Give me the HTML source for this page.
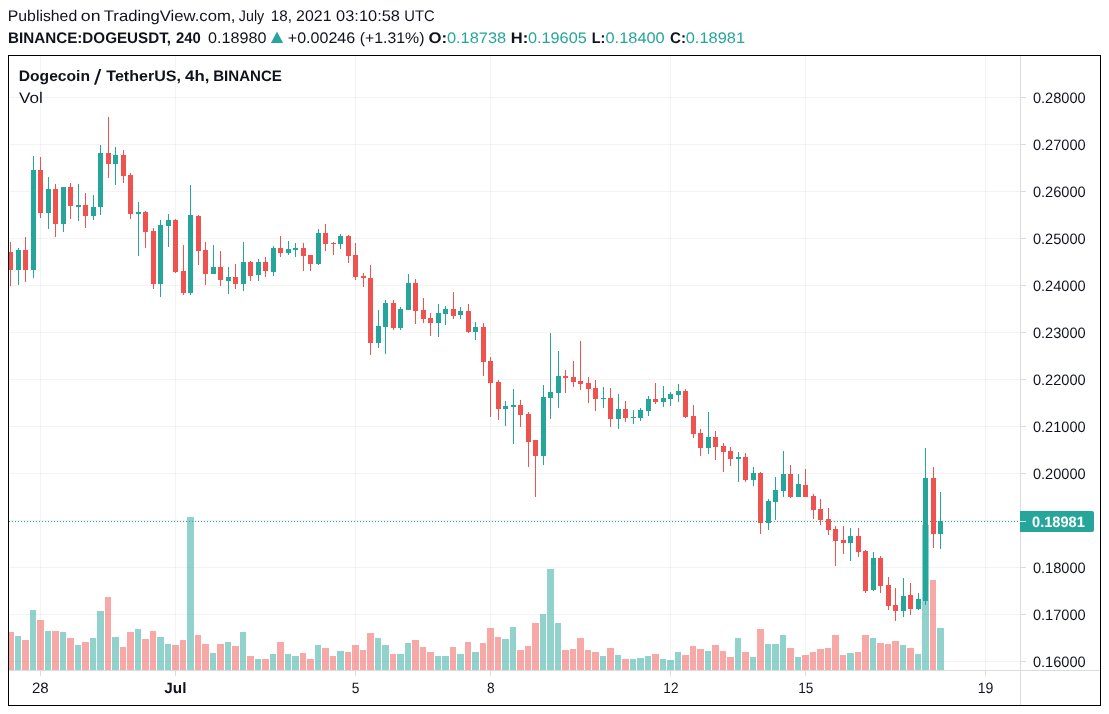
<!DOCTYPE html>
<html><head><meta charset="utf-8"><title>DOGEUSDT</title>
<style>html,body{margin:0;padding:0;background:#fff;font-family:"Liberation Sans",sans-serif;}svg{display:block}</style></head>
<body>
<div style="will-change:transform;width:1109px;height:714px;overflow:hidden">
<svg width="1109" height="714" viewBox="0 0 1109 714" shape-rendering="crispEdges" text-rendering="geometricPrecision">
<rect x="0" y="0" width="1109" height="714" fill="#fff"/>
<g fill="rgba(42,46,57,0.06)">
<rect x="9" y="97" width="1011" height="1"/>
<rect x="9" y="144" width="1011" height="1"/>
<rect x="9" y="191" width="1011" height="1"/>
<rect x="9" y="238" width="1011" height="1"/>
<rect x="9" y="285" width="1011" height="1"/>
<rect x="9" y="332" width="1011" height="1"/>
<rect x="9" y="379" width="1011" height="1"/>
<rect x="9" y="426" width="1011" height="1"/>
<rect x="9" y="473" width="1011" height="1"/>
<rect x="9" y="520" width="1011" height="1"/>
<rect x="9" y="567" width="1011" height="1"/>
<rect x="9" y="614" width="1011" height="1"/>
<rect x="9" y="661" width="1011" height="1"/>
<rect x="40" y="56" width="1" height="614"/>
<rect x="175" y="56" width="1" height="614"/>
<rect x="355" y="56" width="1" height="614"/>
<rect x="490" y="56" width="1" height="614"/>
<rect x="670" y="56" width="1" height="614"/>
<rect x="805" y="56" width="1" height="614"/>
<rect x="985" y="56" width="1" height="614"/>
</g>
<clipPath id="c"><rect x="9" y="56" width="1011" height="614"/></clipPath>
<g clip-path="url(#c)">
<rect x="7" y="632" width="7" height="38" fill="rgba(239,83,80,0.5)"/>
<rect x="15" y="636" width="6" height="34" fill="rgba(38,166,154,0.5)"/>
<rect x="22" y="640" width="7" height="30" fill="rgba(239,83,80,0.5)"/>
<rect x="30" y="610" width="6" height="60" fill="rgba(38,166,154,0.5)"/>
<rect x="37" y="620" width="7" height="50" fill="rgba(239,83,80,0.5)"/>
<rect x="45" y="631" width="6" height="39" fill="rgba(38,166,154,0.5)"/>
<rect x="52" y="631" width="7" height="39" fill="rgba(239,83,80,0.5)"/>
<rect x="60" y="632" width="6" height="38" fill="rgba(38,166,154,0.5)"/>
<rect x="67" y="638" width="7" height="32" fill="rgba(239,83,80,0.5)"/>
<rect x="75" y="645" width="6" height="25" fill="rgba(38,166,154,0.5)"/>
<rect x="82" y="642" width="7" height="28" fill="rgba(239,83,80,0.5)"/>
<rect x="90" y="638" width="6" height="32" fill="rgba(38,166,154,0.5)"/>
<rect x="97" y="611" width="7" height="59" fill="rgba(38,166,154,0.5)"/>
<rect x="105" y="597" width="6" height="73" fill="rgba(239,83,80,0.5)"/>
<rect x="112" y="637" width="7" height="33" fill="rgba(38,166,154,0.5)"/>
<rect x="120" y="647" width="6" height="23" fill="rgba(239,83,80,0.5)"/>
<rect x="127" y="632" width="7" height="38" fill="rgba(239,83,80,0.5)"/>
<rect x="135" y="629" width="6" height="41" fill="rgba(38,166,154,0.5)"/>
<rect x="142" y="639" width="7" height="31" fill="rgba(239,83,80,0.5)"/>
<rect x="150" y="631" width="6" height="39" fill="rgba(239,83,80,0.5)"/>
<rect x="157" y="637" width="7" height="33" fill="rgba(38,166,154,0.5)"/>
<rect x="165" y="644" width="6" height="26" fill="rgba(38,166,154,0.5)"/>
<rect x="172" y="645" width="7" height="25" fill="rgba(239,83,80,0.5)"/>
<rect x="180" y="640" width="6" height="30" fill="rgba(239,83,80,0.5)"/>
<rect x="187" y="517" width="7" height="153" fill="rgba(38,166,154,0.5)"/>
<rect x="195" y="635" width="6" height="35" fill="rgba(239,83,80,0.5)"/>
<rect x="202" y="644" width="7" height="26" fill="rgba(239,83,80,0.5)"/>
<rect x="210" y="653" width="6" height="17" fill="rgba(38,166,154,0.5)"/>
<rect x="217" y="644" width="7" height="26" fill="rgba(239,83,80,0.5)"/>
<rect x="225" y="642" width="6" height="28" fill="rgba(38,166,154,0.5)"/>
<rect x="232" y="646" width="7" height="24" fill="rgba(239,83,80,0.5)"/>
<rect x="240" y="632" width="6" height="38" fill="rgba(38,166,154,0.5)"/>
<rect x="247" y="656" width="7" height="14" fill="rgba(239,83,80,0.5)"/>
<rect x="255" y="659" width="6" height="11" fill="rgba(38,166,154,0.5)"/>
<rect x="262" y="659" width="7" height="11" fill="rgba(239,83,80,0.5)"/>
<rect x="270" y="654" width="6" height="16" fill="rgba(38,166,154,0.5)"/>
<rect x="277" y="642" width="7" height="28" fill="rgba(239,83,80,0.5)"/>
<rect x="285" y="654" width="6" height="16" fill="rgba(38,166,154,0.5)"/>
<rect x="292" y="656" width="7" height="14" fill="rgba(38,166,154,0.5)"/>
<rect x="300" y="653" width="6" height="17" fill="rgba(239,83,80,0.5)"/>
<rect x="307" y="659" width="7" height="11" fill="rgba(239,83,80,0.5)"/>
<rect x="315" y="645" width="6" height="25" fill="rgba(38,166,154,0.5)"/>
<rect x="322" y="648" width="7" height="22" fill="rgba(239,83,80,0.5)"/>
<rect x="330" y="656" width="6" height="14" fill="rgba(239,83,80,0.5)"/>
<rect x="337" y="651" width="7" height="19" fill="rgba(38,166,154,0.5)"/>
<rect x="345" y="652" width="6" height="18" fill="rgba(239,83,80,0.5)"/>
<rect x="352" y="645" width="7" height="25" fill="rgba(239,83,80,0.5)"/>
<rect x="360" y="650" width="6" height="20" fill="rgba(239,83,80,0.5)"/>
<rect x="367" y="633" width="7" height="37" fill="rgba(239,83,80,0.5)"/>
<rect x="375" y="638" width="6" height="32" fill="rgba(38,166,154,0.5)"/>
<rect x="382" y="645" width="7" height="25" fill="rgba(38,166,154,0.5)"/>
<rect x="390" y="654" width="6" height="16" fill="rgba(239,83,80,0.5)"/>
<rect x="397" y="654" width="7" height="16" fill="rgba(38,166,154,0.5)"/>
<rect x="405" y="643" width="6" height="27" fill="rgba(38,166,154,0.5)"/>
<rect x="412" y="640" width="7" height="30" fill="rgba(239,83,80,0.5)"/>
<rect x="420" y="647" width="6" height="23" fill="rgba(239,83,80,0.5)"/>
<rect x="427" y="652" width="7" height="18" fill="rgba(239,83,80,0.5)"/>
<rect x="435" y="656" width="6" height="14" fill="rgba(38,166,154,0.5)"/>
<rect x="442" y="656" width="7" height="14" fill="rgba(38,166,154,0.5)"/>
<rect x="450" y="647" width="6" height="23" fill="rgba(239,83,80,0.5)"/>
<rect x="457" y="654" width="7" height="16" fill="rgba(38,166,154,0.5)"/>
<rect x="465" y="642" width="6" height="28" fill="rgba(239,83,80,0.5)"/>
<rect x="472" y="652" width="7" height="18" fill="rgba(38,166,154,0.5)"/>
<rect x="480" y="643" width="6" height="27" fill="rgba(239,83,80,0.5)"/>
<rect x="487" y="628" width="7" height="42" fill="rgba(239,83,80,0.5)"/>
<rect x="495" y="637" width="6" height="33" fill="rgba(239,83,80,0.5)"/>
<rect x="502" y="639" width="7" height="31" fill="rgba(38,166,154,0.5)"/>
<rect x="510" y="627" width="6" height="43" fill="rgba(38,166,154,0.5)"/>
<rect x="517" y="650" width="7" height="20" fill="rgba(239,83,80,0.5)"/>
<rect x="525" y="646" width="6" height="24" fill="rgba(239,83,80,0.5)"/>
<rect x="532" y="623" width="7" height="47" fill="rgba(239,83,80,0.5)"/>
<rect x="540" y="614" width="6" height="56" fill="rgba(38,166,154,0.5)"/>
<rect x="547" y="569" width="7" height="101" fill="rgba(38,166,154,0.5)"/>
<rect x="555" y="623" width="6" height="47" fill="rgba(38,166,154,0.5)"/>
<rect x="562" y="650" width="7" height="20" fill="rgba(239,83,80,0.5)"/>
<rect x="570" y="649" width="6" height="21" fill="rgba(239,83,80,0.5)"/>
<rect x="577" y="638" width="7" height="32" fill="rgba(239,83,80,0.5)"/>
<rect x="585" y="650" width="6" height="20" fill="rgba(239,83,80,0.5)"/>
<rect x="592" y="652" width="7" height="18" fill="rgba(239,83,80,0.5)"/>
<rect x="600" y="656" width="6" height="14" fill="rgba(38,166,154,0.5)"/>
<rect x="607" y="648" width="7" height="22" fill="rgba(239,83,80,0.5)"/>
<rect x="615" y="655" width="6" height="15" fill="rgba(38,166,154,0.5)"/>
<rect x="622" y="659" width="7" height="11" fill="rgba(239,83,80,0.5)"/>
<rect x="630" y="659" width="6" height="11" fill="rgba(38,166,154,0.5)"/>
<rect x="637" y="658" width="7" height="12" fill="rgba(38,166,154,0.5)"/>
<rect x="645" y="656" width="6" height="14" fill="rgba(38,166,154,0.5)"/>
<rect x="652" y="654" width="7" height="16" fill="rgba(239,83,80,0.5)"/>
<rect x="660" y="659" width="6" height="11" fill="rgba(38,166,154,0.5)"/>
<rect x="667" y="660" width="7" height="10" fill="rgba(38,166,154,0.5)"/>
<rect x="675" y="652" width="6" height="18" fill="rgba(38,166,154,0.5)"/>
<rect x="682" y="655" width="7" height="15" fill="rgba(239,83,80,0.5)"/>
<rect x="690" y="646" width="6" height="24" fill="rgba(239,83,80,0.5)"/>
<rect x="697" y="649" width="7" height="21" fill="rgba(239,83,80,0.5)"/>
<rect x="705" y="651" width="6" height="19" fill="rgba(38,166,154,0.5)"/>
<rect x="712" y="645" width="7" height="25" fill="rgba(239,83,80,0.5)"/>
<rect x="720" y="651" width="6" height="19" fill="rgba(239,83,80,0.5)"/>
<rect x="727" y="657" width="7" height="13" fill="rgba(239,83,80,0.5)"/>
<rect x="735" y="638" width="6" height="32" fill="rgba(38,166,154,0.5)"/>
<rect x="742" y="652" width="7" height="18" fill="rgba(239,83,80,0.5)"/>
<rect x="750" y="657" width="6" height="13" fill="rgba(38,166,154,0.5)"/>
<rect x="757" y="629" width="7" height="41" fill="rgba(239,83,80,0.5)"/>
<rect x="765" y="644" width="6" height="26" fill="rgba(38,166,154,0.5)"/>
<rect x="772" y="644" width="7" height="26" fill="rgba(38,166,154,0.5)"/>
<rect x="780" y="635" width="6" height="35" fill="rgba(38,166,154,0.5)"/>
<rect x="787" y="648" width="7" height="22" fill="rgba(239,83,80,0.5)"/>
<rect x="795" y="657" width="6" height="13" fill="rgba(38,166,154,0.5)"/>
<rect x="802" y="655" width="7" height="15" fill="rgba(239,83,80,0.5)"/>
<rect x="810" y="652" width="6" height="18" fill="rgba(239,83,80,0.5)"/>
<rect x="817" y="649" width="7" height="21" fill="rgba(239,83,80,0.5)"/>
<rect x="825" y="648" width="6" height="22" fill="rgba(239,83,80,0.5)"/>
<rect x="832" y="635" width="7" height="35" fill="rgba(239,83,80,0.5)"/>
<rect x="840" y="655" width="6" height="15" fill="rgba(239,83,80,0.5)"/>
<rect x="847" y="653" width="7" height="17" fill="rgba(38,166,154,0.5)"/>
<rect x="855" y="652" width="6" height="18" fill="rgba(239,83,80,0.5)"/>
<rect x="862" y="635" width="7" height="35" fill="rgba(239,83,80,0.5)"/>
<rect x="870" y="638" width="6" height="32" fill="rgba(38,166,154,0.5)"/>
<rect x="877" y="643" width="7" height="27" fill="rgba(239,83,80,0.5)"/>
<rect x="885" y="644" width="6" height="26" fill="rgba(239,83,80,0.5)"/>
<rect x="892" y="641" width="7" height="29" fill="rgba(239,83,80,0.5)"/>
<rect x="900" y="645" width="6" height="25" fill="rgba(38,166,154,0.5)"/>
<rect x="907" y="648" width="7" height="22" fill="rgba(239,83,80,0.5)"/>
<rect x="915" y="654" width="6" height="16" fill="rgba(38,166,154,0.5)"/>
<rect x="922" y="525" width="7" height="145" fill="rgba(38,166,154,0.5)"/>
<rect x="930" y="580" width="6" height="90" fill="rgba(239,83,80,0.5)"/>
<rect x="937" y="628" width="7" height="42" fill="rgba(38,166,154,0.5)"/>
<line x1="9" y1="521.5" x2="1020" y2="521.5" stroke="#26a69a" stroke-width="1" stroke-dasharray="1 2" shape-rendering="crispEdges"/>
<rect x="10" y="242" width="1" height="44" fill="#ef5350"/>
<rect x="8" y="252" width="5" height="18" fill="#ef5350"/>
<rect x="18" y="248" width="1" height="37" fill="#26a69a"/>
<rect x="16" y="250" width="5" height="20" fill="#26a69a"/>
<rect x="25" y="237" width="1" height="45" fill="#ef5350"/>
<rect x="23" y="250" width="5" height="20" fill="#ef5350"/>
<rect x="33" y="156" width="1" height="122" fill="#26a69a"/>
<rect x="31" y="170" width="5" height="100" fill="#26a69a"/>
<rect x="40" y="157" width="1" height="61" fill="#ef5350"/>
<rect x="38" y="170" width="5" height="43" fill="#ef5350"/>
<rect x="48" y="177" width="1" height="52" fill="#26a69a"/>
<rect x="46" y="189" width="5" height="24" fill="#26a69a"/>
<rect x="55" y="184" width="1" height="53" fill="#ef5350"/>
<rect x="53" y="189" width="5" height="35" fill="#ef5350"/>
<rect x="63" y="187" width="1" height="45" fill="#26a69a"/>
<rect x="61" y="187" width="5" height="37" fill="#26a69a"/>
<rect x="70" y="183" width="1" height="36" fill="#ef5350"/>
<rect x="68" y="187" width="5" height="19" fill="#ef5350"/>
<rect x="78" y="184" width="1" height="37" fill="#26a69a"/>
<rect x="76" y="205" width="5" height="2" fill="#26a69a"/>
<rect x="85" y="193" width="1" height="35" fill="#ef5350"/>
<rect x="83" y="205" width="5" height="11" fill="#ef5350"/>
<rect x="93" y="195" width="1" height="25" fill="#26a69a"/>
<rect x="91" y="207" width="5" height="9" fill="#26a69a"/>
<rect x="100" y="145" width="1" height="70" fill="#26a69a"/>
<rect x="98" y="153" width="5" height="54" fill="#26a69a"/>
<rect x="108" y="117" width="1" height="61" fill="#ef5350"/>
<rect x="106" y="153" width="5" height="11" fill="#ef5350"/>
<rect x="115" y="147" width="1" height="38" fill="#26a69a"/>
<rect x="113" y="155" width="5" height="9" fill="#26a69a"/>
<rect x="123" y="150" width="1" height="33" fill="#ef5350"/>
<rect x="121" y="155" width="5" height="21" fill="#ef5350"/>
<rect x="130" y="173" width="1" height="46" fill="#ef5350"/>
<rect x="128" y="175" width="5" height="39" fill="#ef5350"/>
<rect x="138" y="202" width="1" height="54" fill="#26a69a"/>
<rect x="136" y="212" width="5" height="2" fill="#26a69a"/>
<rect x="145" y="211" width="1" height="37" fill="#ef5350"/>
<rect x="143" y="212" width="5" height="20" fill="#ef5350"/>
<rect x="153" y="228" width="1" height="61" fill="#ef5350"/>
<rect x="151" y="231" width="5" height="53" fill="#ef5350"/>
<rect x="160" y="220" width="1" height="77" fill="#26a69a"/>
<rect x="158" y="225" width="5" height="59" fill="#26a69a"/>
<rect x="168" y="214" width="1" height="33" fill="#26a69a"/>
<rect x="166" y="220" width="5" height="6" fill="#26a69a"/>
<rect x="175" y="219" width="1" height="54" fill="#ef5350"/>
<rect x="173" y="220" width="5" height="52" fill="#ef5350"/>
<rect x="183" y="245" width="1" height="50" fill="#ef5350"/>
<rect x="181" y="271" width="5" height="22" fill="#ef5350"/>
<rect x="190" y="185" width="1" height="110" fill="#26a69a"/>
<rect x="188" y="215" width="5" height="78" fill="#26a69a"/>
<rect x="198" y="215" width="1" height="50" fill="#ef5350"/>
<rect x="196" y="216" width="5" height="35" fill="#ef5350"/>
<rect x="205" y="242" width="1" height="43" fill="#ef5350"/>
<rect x="203" y="250" width="5" height="24" fill="#ef5350"/>
<rect x="213" y="245" width="1" height="29" fill="#26a69a"/>
<rect x="211" y="267" width="5" height="7" fill="#26a69a"/>
<rect x="220" y="251" width="1" height="35" fill="#ef5350"/>
<rect x="218" y="267" width="5" height="13" fill="#ef5350"/>
<rect x="228" y="267" width="1" height="27" fill="#26a69a"/>
<rect x="226" y="277" width="5" height="4" fill="#26a69a"/>
<rect x="235" y="264" width="1" height="25" fill="#ef5350"/>
<rect x="233" y="277" width="5" height="7" fill="#ef5350"/>
<rect x="243" y="242" width="1" height="49" fill="#26a69a"/>
<rect x="241" y="262" width="5" height="22" fill="#26a69a"/>
<rect x="250" y="261" width="1" height="20" fill="#ef5350"/>
<rect x="248" y="262" width="5" height="14" fill="#ef5350"/>
<rect x="258" y="259" width="1" height="22" fill="#26a69a"/>
<rect x="256" y="262" width="5" height="13" fill="#26a69a"/>
<rect x="265" y="257" width="1" height="20" fill="#ef5350"/>
<rect x="263" y="262" width="5" height="9" fill="#ef5350"/>
<rect x="273" y="246" width="1" height="30" fill="#26a69a"/>
<rect x="271" y="248" width="5" height="24" fill="#26a69a"/>
<rect x="280" y="236" width="1" height="21" fill="#ef5350"/>
<rect x="278" y="248" width="5" height="5" fill="#ef5350"/>
<rect x="288" y="241" width="1" height="14" fill="#26a69a"/>
<rect x="286" y="249" width="5" height="4" fill="#26a69a"/>
<rect x="295" y="243" width="1" height="14" fill="#26a69a"/>
<rect x="293" y="248" width="5" height="2" fill="#26a69a"/>
<rect x="303" y="243" width="1" height="28" fill="#ef5350"/>
<rect x="301" y="248" width="5" height="8" fill="#ef5350"/>
<rect x="310" y="255" width="1" height="16" fill="#ef5350"/>
<rect x="308" y="255" width="5" height="9" fill="#ef5350"/>
<rect x="318" y="229" width="1" height="36" fill="#26a69a"/>
<rect x="316" y="233" width="5" height="31" fill="#26a69a"/>
<rect x="325" y="224" width="1" height="27" fill="#ef5350"/>
<rect x="323" y="233" width="5" height="11" fill="#ef5350"/>
<rect x="333" y="242" width="1" height="13" fill="#ef5350"/>
<rect x="331" y="243" width="5" height="1" fill="#ef5350"/>
<rect x="340" y="234" width="1" height="15" fill="#26a69a"/>
<rect x="338" y="236" width="5" height="8" fill="#26a69a"/>
<rect x="348" y="235" width="1" height="28" fill="#ef5350"/>
<rect x="346" y="236" width="5" height="20" fill="#ef5350"/>
<rect x="355" y="243" width="1" height="37" fill="#ef5350"/>
<rect x="353" y="255" width="5" height="22" fill="#ef5350"/>
<rect x="363" y="273" width="1" height="14" fill="#ef5350"/>
<rect x="361" y="276" width="5" height="2" fill="#ef5350"/>
<rect x="370" y="265" width="1" height="90" fill="#ef5350"/>
<rect x="368" y="278" width="5" height="65" fill="#ef5350"/>
<rect x="378" y="310" width="1" height="38" fill="#26a69a"/>
<rect x="376" y="326" width="5" height="17" fill="#26a69a"/>
<rect x="385" y="300" width="1" height="54" fill="#26a69a"/>
<rect x="383" y="303" width="5" height="24" fill="#26a69a"/>
<rect x="393" y="300" width="1" height="30" fill="#ef5350"/>
<rect x="391" y="303" width="5" height="25" fill="#ef5350"/>
<rect x="400" y="307" width="1" height="23" fill="#26a69a"/>
<rect x="398" y="309" width="5" height="19" fill="#26a69a"/>
<rect x="408" y="274" width="1" height="36" fill="#26a69a"/>
<rect x="406" y="283" width="5" height="27" fill="#26a69a"/>
<rect x="415" y="279" width="1" height="45" fill="#ef5350"/>
<rect x="413" y="283" width="5" height="28" fill="#ef5350"/>
<rect x="423" y="298" width="1" height="25" fill="#ef5350"/>
<rect x="421" y="310" width="5" height="9" fill="#ef5350"/>
<rect x="430" y="313" width="1" height="23" fill="#ef5350"/>
<rect x="428" y="318" width="5" height="5" fill="#ef5350"/>
<rect x="438" y="304" width="1" height="33" fill="#26a69a"/>
<rect x="436" y="313" width="5" height="10" fill="#26a69a"/>
<rect x="445" y="306" width="1" height="19" fill="#26a69a"/>
<rect x="443" y="309" width="5" height="5" fill="#26a69a"/>
<rect x="453" y="292" width="1" height="27" fill="#ef5350"/>
<rect x="451" y="309" width="5" height="7" fill="#ef5350"/>
<rect x="460" y="307" width="1" height="12" fill="#26a69a"/>
<rect x="458" y="311" width="5" height="4" fill="#26a69a"/>
<rect x="468" y="304" width="1" height="29" fill="#ef5350"/>
<rect x="466" y="311" width="5" height="21" fill="#ef5350"/>
<rect x="475" y="322" width="1" height="18" fill="#26a69a"/>
<rect x="473" y="327" width="5" height="5" fill="#26a69a"/>
<rect x="483" y="323" width="1" height="53" fill="#ef5350"/>
<rect x="481" y="327" width="5" height="35" fill="#ef5350"/>
<rect x="490" y="357" width="1" height="60" fill="#ef5350"/>
<rect x="488" y="361" width="5" height="22" fill="#ef5350"/>
<rect x="498" y="380" width="1" height="40" fill="#ef5350"/>
<rect x="496" y="382" width="5" height="27" fill="#ef5350"/>
<rect x="505" y="401" width="1" height="25" fill="#26a69a"/>
<rect x="503" y="406" width="5" height="3" fill="#26a69a"/>
<rect x="513" y="389" width="1" height="55" fill="#26a69a"/>
<rect x="511" y="405" width="5" height="2" fill="#26a69a"/>
<rect x="520" y="400" width="1" height="27" fill="#ef5350"/>
<rect x="518" y="405" width="5" height="10" fill="#ef5350"/>
<rect x="528" y="412" width="1" height="55" fill="#ef5350"/>
<rect x="526" y="414" width="5" height="28" fill="#ef5350"/>
<rect x="535" y="440" width="1" height="57" fill="#ef5350"/>
<rect x="533" y="440" width="5" height="16" fill="#ef5350"/>
<rect x="543" y="385" width="1" height="80" fill="#26a69a"/>
<rect x="541" y="397" width="5" height="59" fill="#26a69a"/>
<rect x="550" y="333" width="1" height="86" fill="#26a69a"/>
<rect x="548" y="392" width="5" height="6" fill="#26a69a"/>
<rect x="558" y="351" width="1" height="57" fill="#26a69a"/>
<rect x="556" y="376" width="5" height="17" fill="#26a69a"/>
<rect x="565" y="370" width="1" height="23" fill="#ef5350"/>
<rect x="563" y="376" width="5" height="2" fill="#ef5350"/>
<rect x="573" y="361" width="1" height="26" fill="#ef5350"/>
<rect x="571" y="377" width="5" height="5" fill="#ef5350"/>
<rect x="580" y="341" width="1" height="49" fill="#ef5350"/>
<rect x="578" y="381" width="5" height="3" fill="#ef5350"/>
<rect x="588" y="377" width="1" height="26" fill="#ef5350"/>
<rect x="586" y="383" width="5" height="6" fill="#ef5350"/>
<rect x="595" y="380" width="1" height="31" fill="#ef5350"/>
<rect x="593" y="388" width="5" height="11" fill="#ef5350"/>
<rect x="603" y="387" width="1" height="21" fill="#26a69a"/>
<rect x="601" y="398" width="5" height="1" fill="#26a69a"/>
<rect x="610" y="388" width="1" height="39" fill="#ef5350"/>
<rect x="608" y="398" width="5" height="21" fill="#ef5350"/>
<rect x="618" y="394" width="1" height="35" fill="#26a69a"/>
<rect x="616" y="409" width="5" height="10" fill="#26a69a"/>
<rect x="625" y="401" width="1" height="21" fill="#ef5350"/>
<rect x="623" y="409" width="5" height="9" fill="#ef5350"/>
<rect x="633" y="410" width="1" height="14" fill="#26a69a"/>
<rect x="631" y="417" width="5" height="1" fill="#26a69a"/>
<rect x="640" y="408" width="1" height="13" fill="#26a69a"/>
<rect x="638" y="410" width="5" height="8" fill="#26a69a"/>
<rect x="648" y="396" width="1" height="20" fill="#26a69a"/>
<rect x="646" y="399" width="5" height="12" fill="#26a69a"/>
<rect x="655" y="383" width="1" height="21" fill="#ef5350"/>
<rect x="653" y="399" width="5" height="3" fill="#ef5350"/>
<rect x="663" y="386" width="1" height="21" fill="#26a69a"/>
<rect x="661" y="398" width="5" height="4" fill="#26a69a"/>
<rect x="670" y="392" width="1" height="14" fill="#26a69a"/>
<rect x="668" y="394" width="5" height="5" fill="#26a69a"/>
<rect x="678" y="384" width="1" height="18" fill="#26a69a"/>
<rect x="676" y="391" width="5" height="4" fill="#26a69a"/>
<rect x="685" y="389" width="1" height="29" fill="#ef5350"/>
<rect x="683" y="391" width="5" height="26" fill="#ef5350"/>
<rect x="693" y="405" width="1" height="33" fill="#ef5350"/>
<rect x="691" y="416" width="5" height="18" fill="#ef5350"/>
<rect x="700" y="429" width="1" height="27" fill="#ef5350"/>
<rect x="698" y="433" width="5" height="15" fill="#ef5350"/>
<rect x="708" y="412" width="1" height="42" fill="#26a69a"/>
<rect x="706" y="437" width="5" height="11" fill="#26a69a"/>
<rect x="715" y="431" width="1" height="29" fill="#ef5350"/>
<rect x="713" y="437" width="5" height="10" fill="#ef5350"/>
<rect x="723" y="443" width="1" height="29" fill="#ef5350"/>
<rect x="721" y="446" width="5" height="6" fill="#ef5350"/>
<rect x="730" y="447" width="1" height="19" fill="#ef5350"/>
<rect x="728" y="451" width="5" height="8" fill="#ef5350"/>
<rect x="738" y="452" width="1" height="30" fill="#26a69a"/>
<rect x="736" y="457" width="5" height="2" fill="#26a69a"/>
<rect x="745" y="453" width="1" height="29" fill="#ef5350"/>
<rect x="743" y="457" width="5" height="23" fill="#ef5350"/>
<rect x="753" y="467" width="1" height="19" fill="#26a69a"/>
<rect x="751" y="473" width="5" height="7" fill="#26a69a"/>
<rect x="760" y="472" width="1" height="62" fill="#ef5350"/>
<rect x="758" y="473" width="5" height="50" fill="#ef5350"/>
<rect x="768" y="499" width="1" height="31" fill="#26a69a"/>
<rect x="766" y="501" width="5" height="22" fill="#26a69a"/>
<rect x="775" y="477" width="1" height="43" fill="#26a69a"/>
<rect x="773" y="490" width="5" height="12" fill="#26a69a"/>
<rect x="783" y="451" width="1" height="46" fill="#26a69a"/>
<rect x="781" y="474" width="5" height="17" fill="#26a69a"/>
<rect x="790" y="465" width="1" height="33" fill="#ef5350"/>
<rect x="788" y="474" width="5" height="23" fill="#ef5350"/>
<rect x="798" y="474" width="1" height="23" fill="#26a69a"/>
<rect x="796" y="484" width="5" height="13" fill="#26a69a"/>
<rect x="805" y="469" width="1" height="28" fill="#ef5350"/>
<rect x="803" y="485" width="5" height="12" fill="#ef5350"/>
<rect x="813" y="494" width="1" height="25" fill="#ef5350"/>
<rect x="811" y="496" width="5" height="14" fill="#ef5350"/>
<rect x="820" y="499" width="1" height="26" fill="#ef5350"/>
<rect x="818" y="509" width="5" height="11" fill="#ef5350"/>
<rect x="828" y="508" width="1" height="27" fill="#ef5350"/>
<rect x="826" y="519" width="5" height="11" fill="#ef5350"/>
<rect x="835" y="526" width="1" height="40" fill="#ef5350"/>
<rect x="833" y="529" width="5" height="12" fill="#ef5350"/>
<rect x="843" y="526" width="1" height="28" fill="#ef5350"/>
<rect x="841" y="540" width="5" height="3" fill="#ef5350"/>
<rect x="850" y="528" width="1" height="33" fill="#26a69a"/>
<rect x="848" y="536" width="5" height="7" fill="#26a69a"/>
<rect x="858" y="528" width="1" height="29" fill="#ef5350"/>
<rect x="856" y="536" width="5" height="16" fill="#ef5350"/>
<rect x="865" y="550" width="1" height="43" fill="#ef5350"/>
<rect x="863" y="551" width="5" height="40" fill="#ef5350"/>
<rect x="873" y="552" width="1" height="39" fill="#26a69a"/>
<rect x="871" y="558" width="5" height="32" fill="#26a69a"/>
<rect x="880" y="556" width="1" height="37" fill="#ef5350"/>
<rect x="878" y="558" width="5" height="28" fill="#ef5350"/>
<rect x="888" y="577" width="1" height="33" fill="#ef5350"/>
<rect x="886" y="585" width="5" height="21" fill="#ef5350"/>
<rect x="895" y="588" width="1" height="33" fill="#ef5350"/>
<rect x="893" y="605" width="5" height="6" fill="#ef5350"/>
<rect x="903" y="578" width="1" height="39" fill="#26a69a"/>
<rect x="901" y="596" width="5" height="15" fill="#26a69a"/>
<rect x="910" y="583" width="1" height="32" fill="#ef5350"/>
<rect x="908" y="595" width="5" height="14" fill="#ef5350"/>
<rect x="918" y="593" width="1" height="17" fill="#26a69a"/>
<rect x="916" y="599" width="5" height="10" fill="#26a69a"/>
<rect x="925" y="448" width="1" height="157" fill="#26a69a"/>
<rect x="923" y="478" width="5" height="123" fill="#26a69a"/>
<rect x="933" y="467" width="1" height="81" fill="#ef5350"/>
<rect x="931" y="478" width="5" height="56" fill="#ef5350"/>
<rect x="940" y="492" width="1" height="57" fill="#26a69a"/>
<rect x="938" y="521" width="5" height="13" fill="#26a69a"/>
</g>
<rect x="1020" y="56" width="1" height="649" fill="#dcdcde"/>
<rect x="9" y="670" width="1091" height="1" fill="#dcdcde"/>
<g fill="#dcdcde">
<rect x="1021" y="97" width="5" height="1"/>
<rect x="1021" y="144" width="5" height="1"/>
<rect x="1021" y="191" width="5" height="1"/>
<rect x="1021" y="238" width="5" height="1"/>
<rect x="1021" y="285" width="5" height="1"/>
<rect x="1021" y="332" width="5" height="1"/>
<rect x="1021" y="379" width="5" height="1"/>
<rect x="1021" y="426" width="5" height="1"/>
<rect x="1021" y="473" width="5" height="1"/>
<rect x="1021" y="520" width="5" height="1"/>
<rect x="1021" y="567" width="5" height="1"/>
<rect x="1021" y="614" width="5" height="1"/>
<rect x="1021" y="661" width="5" height="1"/>
<rect x="40" y="671" width="1" height="5"/>
<rect x="175" y="671" width="1" height="5"/>
<rect x="355" y="671" width="1" height="5"/>
<rect x="490" y="671" width="1" height="5"/>
<rect x="670" y="671" width="1" height="5"/>
<rect x="805" y="671" width="1" height="5"/>
<rect x="985" y="671" width="1" height="5"/>
</g>
<g fill="#000">
<rect x="8" y="55" width="1093" height="1"/>
<rect x="8" y="705" width="1093" height="1"/>
<rect x="8" y="55" width="1" height="651"/>
<rect x="1100" y="55" width="1" height="651"/>
</g>
<g font-family="Liberation Sans, sans-serif" shape-rendering="auto" opacity="0.999">
<text x="1032.8799999999999" y="102.5" font-size="15" fill="#10131c" textLength="52.82" lengthAdjust="spacingAndGlyphs">0.28000</text>
<text x="1032.8799999999999" y="149.5" font-size="15" fill="#10131c" textLength="52.82" lengthAdjust="spacingAndGlyphs">0.27000</text>
<text x="1032.8799999999999" y="196.5" font-size="15" fill="#10131c" textLength="52.82" lengthAdjust="spacingAndGlyphs">0.26000</text>
<text x="1032.8799999999999" y="243.5" font-size="15" fill="#10131c" textLength="52.82" lengthAdjust="spacingAndGlyphs">0.25000</text>
<text x="1032.8799999999999" y="290.5" font-size="15" fill="#10131c" textLength="52.82" lengthAdjust="spacingAndGlyphs">0.24000</text>
<text x="1032.8799999999999" y="337.5" font-size="15" fill="#10131c" textLength="52.82" lengthAdjust="spacingAndGlyphs">0.23000</text>
<text x="1032.8799999999999" y="384.5" font-size="15" fill="#10131c" textLength="52.82" lengthAdjust="spacingAndGlyphs">0.22000</text>
<text x="1032.8799999999999" y="431.5" font-size="15" fill="#10131c" textLength="52.82" lengthAdjust="spacingAndGlyphs">0.21000</text>
<text x="1032.8799999999999" y="478.5" font-size="15" fill="#10131c" textLength="52.82" lengthAdjust="spacingAndGlyphs">0.20000</text>
<text x="1032.8799999999999" y="572.5" font-size="15" fill="#10131c" textLength="52.82" lengthAdjust="spacingAndGlyphs">0.18000</text>
<text x="1032.8799999999999" y="619.5" font-size="15" fill="#10131c" textLength="52.82" lengthAdjust="spacingAndGlyphs">0.17000</text>
<text x="1032.8799999999999" y="666.5" font-size="15" fill="#10131c" textLength="52.82" lengthAdjust="spacingAndGlyphs">0.16000</text>
<path d="M1020 511H1092a2 2 0 0 1 2 2V530a2 2 0 0 1 -2 2H1020Z" fill="#26a69a"/>
<rect x="1020" y="521" width="6" height="1" fill="#d9efed" shape-rendering="crispEdges"/>
<text x="1032.09" y="526.9" font-size="15" fill="#fff" font-weight="bold" textLength="52.78" lengthAdjust="spacingAndGlyphs">0.18981</text>
<text x="31.95" y="692.9" font-size="15" fill="#10131c" textLength="16.74" lengthAdjust="spacingAndGlyphs">28</text>
<text x="164.34" y="692.9" font-size="15" fill="#10131c" font-weight="bold" textLength="22.14" lengthAdjust="spacingAndGlyphs">Jul</text>
<text x="977.64" y="692.9" font-size="15" fill="#10131c" textLength="15.71" lengthAdjust="spacingAndGlyphs">19</text>
<text x="355.5" y="692.9" font-size="15" fill="#10131c" text-anchor="middle" textLength="7.6" lengthAdjust="spacingAndGlyphs">5</text>
<text x="490.7" y="692.9" font-size="15" fill="#10131c" text-anchor="middle" textLength="7.6" lengthAdjust="spacingAndGlyphs">8</text>
<text x="670.9" y="692.9" font-size="15" fill="#10131c" text-anchor="middle" textLength="15.1" lengthAdjust="spacingAndGlyphs">12</text>
<text x="805.8" y="692.9" font-size="15" fill="#10131c" text-anchor="middle" textLength="15.1" lengthAdjust="spacingAndGlyphs">15</text>
<text x="7.78" y="21.35" font-size="15.4" fill="#10131c" textLength="69.43" lengthAdjust="spacingAndGlyphs">Published</text>
<text x="80.88" y="21.35" font-size="15.4" fill="#10131c" textLength="19.67" lengthAdjust="spacingAndGlyphs">on</text>
<text x="103.79" y="21.35" font-size="15.4" fill="#10131c" textLength="131.68" lengthAdjust="spacingAndGlyphs">TradingView.com,</text>
<text x="238.87" y="21.35" font-size="15.4" fill="#10131c" textLength="25.33" lengthAdjust="spacingAndGlyphs">July</text>
<text x="270.79" y="21.35" font-size="15.4" fill="#10131c" textLength="21.21" lengthAdjust="spacingAndGlyphs">18,</text>
<text x="296.13" y="21.35" font-size="15.4" fill="#10131c" textLength="35.35" lengthAdjust="spacingAndGlyphs">2021</text>
<text x="336.13" y="21.35" font-size="15.4" fill="#10131c" textLength="63.88" lengthAdjust="spacingAndGlyphs">03:10:58</text>
<text x="404.3" y="21.35" font-size="15.4" fill="#10131c" textLength="30.31" lengthAdjust="spacingAndGlyphs">UTC</text>
<text x="8.07" y="43.3" font-size="15.3" fill="#10131c" font-weight="bold" textLength="162.96" lengthAdjust="spacingAndGlyphs">BINANCE:DOGEUSDT,</text>
<text x="176.01" y="43.3" font-size="15.3" fill="#10131c" font-weight="bold" textLength="24.82" lengthAdjust="spacingAndGlyphs">240</text>
<text x="208.04" y="43.3" font-size="15.3" fill="#10131c" textLength="58.47" lengthAdjust="spacingAndGlyphs">0.18980</text>
<path d="M270.9 42.9 L277.0 31.6 L283.1 42.9 Z" fill="#26a69a"/>
<text x="287.81" y="43.3" font-size="15.3" fill="#10131c" textLength="67.36" lengthAdjust="spacingAndGlyphs">+0.00246</text>
<text x="359.66" y="43.3" font-size="15.3" fill="#10131c" textLength="64.77" lengthAdjust="spacingAndGlyphs">(+1.31%)</text>
<text x="428.42" y="43.3" font-size="15.3" fill="#10131c" font-weight="bold" textLength="18.63" lengthAdjust="spacingAndGlyphs">O:</text>
<text x="446.93" y="43.3" font-size="15.3" fill="#26a69a" textLength="59.29" lengthAdjust="spacingAndGlyphs">0.18738</text>
<text x="510.82" y="43.3" font-size="15.3" fill="#10131c" font-weight="bold" textLength="17.43" lengthAdjust="spacingAndGlyphs">H:</text>
<text x="527.94" y="43.3" font-size="15.3" fill="#26a69a" textLength="58.78" lengthAdjust="spacingAndGlyphs">0.19605</text>
<text x="591.76" y="43.3" font-size="15.3" fill="#10131c" font-weight="bold" textLength="13.61" lengthAdjust="spacingAndGlyphs">L:</text>
<text x="605.53" y="43.3" font-size="15.3" fill="#26a69a" textLength="59.19" lengthAdjust="spacingAndGlyphs">0.18400</text>
<text x="670.08" y="43.3" font-size="15.3" fill="#10131c" font-weight="bold" textLength="15.93" lengthAdjust="spacingAndGlyphs">C:</text>
<text x="685.73" y="43.3" font-size="15.3" fill="#26a69a" textLength="59.33" lengthAdjust="spacingAndGlyphs">0.18981</text>
<path d="M94.0 84.8 L96.1 84.8 L101.3 69.0 L99.2 69.0 Z" fill="#10131c"/>
<text x="18.76" y="81.35" font-size="15.1" fill="#10131c" font-weight="bold" textLength="71.26" lengthAdjust="spacingAndGlyphs">Dogecoin</text>
<text x="106.27" y="81.35" font-size="15.1" fill="#10131c" font-weight="bold" textLength="74.65" lengthAdjust="spacingAndGlyphs">TetherUS,</text>
<text x="185.12" y="81.35" font-size="15.1" fill="#10131c" font-weight="bold" textLength="24.26" lengthAdjust="spacingAndGlyphs">4h,</text>
<text x="213.2" y="81.35" font-size="15.1" fill="#10131c" font-weight="bold" textLength="68.64" lengthAdjust="spacingAndGlyphs">BINANCE</text>
<text x="19.06" y="102.65" font-size="15.4" fill="#10131c" textLength="23.8" lengthAdjust="spacingAndGlyphs">Vol</text>
</g>
</svg>
</div>
</body></html>
